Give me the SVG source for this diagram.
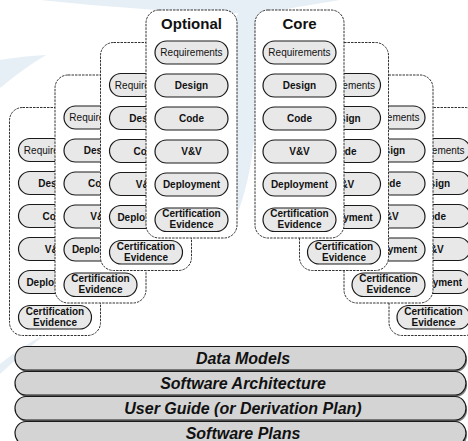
<svg xmlns="http://www.w3.org/2000/svg" width="468" height="441" viewBox="0 0 468 441">
  <style>
    .wm { fill: #e6eef6; }
    .card { fill: #ffffff; stroke: #333333; stroke-width: 1; stroke-dasharray: 2.5 1; }
    .pill { fill: #e8e8e8; stroke: #1a1a1a; stroke-width: 1.2; }
    .lbl { font-family: "Liberation Sans", Arial, sans-serif; font-size: 10px; font-weight: bold; text-anchor: middle; fill: #111111; }
    .req { font-weight: normal; }
    .title { font-size: 15px; }
    .bar { fill: #d4d4d4; stroke: #1a1a1a; stroke-width: 1.2; }
    .barshadow { fill: #808080; }
    .bartxt { font-family: "Liberation Sans", Arial, sans-serif; font-size: 16px; font-weight: bold; font-style: italic; text-anchor: middle; fill: #111111; }
  </style>

  <defs>
    <!-- each card behind is cut away where the next card in front sits -->
    <clipPath id="behind-optional">
      <path clip-rule="evenodd" d="M-10,-10 H480 V460 H-10 Z M159,10 H224 A13,13 0 0 1 237,23 V225 A13,13 0 0 1 224,238 H159 A13,13 0 0 1 146,225 V23 A13,13 0 0 1 159,10 Z"/>
    </clipPath>
    <clipPath id="behind-optional-2">
      <path clip-rule="evenodd" d="M-10,-10 H480 V460 H-10 Z M113.5,42.5 H178.5 A13,13 0 0 1 191.5,55.5 V257.5 A13,13 0 0 1 178.5,270.5 H113.5 A13,13 0 0 1 100.5,257.5 V55.5 A13,13 0 0 1 113.5,42.5 Z"/>
    </clipPath>
    <clipPath id="behind-optional-3">
      <path clip-rule="evenodd" d="M-10,-10 H480 V460 H-10 Z M68,75 H133 A13,13 0 0 1 146,88 V290 A13,13 0 0 1 133,303 H68 A13,13 0 0 1 55,290 V88 A13,13 0 0 1 68,75 Z"/>
    </clipPath>
    <clipPath id="behind-core">
      <path clip-rule="evenodd" d="M-10,-10 H480 V460 H-10 Z M268,10 H331 A13,13 0 0 1 344,23 V225 A13,13 0 0 1 331,238 H268 A13,13 0 0 1 255,225 V23 A13,13 0 0 1 268,10 Z"/>
    </clipPath>
    <clipPath id="behind-core-2">
      <path clip-rule="evenodd" d="M-10,-10 H480 V460 H-10 Z M312.5,42.5 H375.5 A13,13 0 0 1 388.5,55.5 V257.5 A13,13 0 0 1 375.5,270.5 H312.5 A13,13 0 0 1 299.5,257.5 V55.5 A13,13 0 0 1 312.5,42.5 Z"/>
    </clipPath>
    <clipPath id="behind-core-3">
      <path clip-rule="evenodd" d="M-10,-10 H480 V460 H-10 Z M357,75 H420 A13,13 0 0 1 433,88 V290 A13,13 0 0 1 420,303 H357 A13,13 0 0 1 344,290 V88 A13,13 0 0 1 357,75 Z"/>
    </clipPath>
  </defs>

  <rect width="468" height="441" fill="#ffffff"/>

  <!-- faint background swoosh -->
  <g id="watermark">
    <path class="wm" d="M40,0 L340,0 Q300,6 262,14 Q150,12 40,0 Z"/>
    <path class="wm" d="M246,4 Q264,12 258,44 L256,120 Q252,175 238,212 Q236,150 228,70 Q226,22 246,4 Z"/>
    <path class="wm" d="M0,60 Q24,56 46,55 Q24,68 0,88 Z"/>
    <path class="wm" d="M0,364 Q22,346 44,335 Q24,352 0,374 Z"/>
  </g>

  <!-- left stack: optional lifecycles, back to front -->
  <g id="optional-4" clip-path="url(#behind-optional-3)">
    <rect class="card" x="9.5" y="107.5" width="91" height="228" rx="13"/>
    <g id="optional-4-req"><rect class="pill" x="18.5" y="138.5" width="73" height="23" rx="11.5"/><text class="lbl req" x="55" y="153.5">Requirements</text></g>
    <g id="optional-4-design"><rect class="pill" x="18.5" y="171.5" width="73" height="23" rx="11.5"/><text class="lbl" x="55" y="186.5">Design</text></g>
    <g id="optional-4-code"><rect class="pill" x="18.5" y="204.5" width="73" height="23" rx="11.5"/><text class="lbl" x="55" y="219.5">Code</text></g>
    <g id="optional-4-vv"><rect class="pill" x="18.5" y="237.5" width="73" height="23" rx="11.5"/><text class="lbl" x="55" y="252.5">V&amp;V</text></g>
    <g id="optional-4-deploy"><rect class="pill" x="18.5" y="270.5" width="73" height="23" rx="11.5"/><text class="lbl" x="55" y="285.5">Deployment</text></g>
    <g id="optional-4-cert"><rect class="pill" x="18.5" y="305.5" width="73" height="23.5" rx="11.75"/><text class="lbl" x="55" y="314.5">Certification</text><text class="lbl" x="55" y="325.5">Evidence</text></g>
  </g>

  <g id="optional-3" clip-path="url(#behind-optional-2)">
    <rect class="card" x="55" y="75" width="91" height="228" rx="13"/>
    <g id="optional-3-req"><rect class="pill" x="64" y="106" width="73" height="23" rx="11.5"/><text class="lbl req" x="100.5" y="121">Requirements</text></g>
    <g id="optional-3-design"><rect class="pill" x="64" y="139" width="73" height="23" rx="11.5"/><text class="lbl" x="100.5" y="154">Design</text></g>
    <g id="optional-3-code"><rect class="pill" x="64" y="172" width="73" height="23" rx="11.5"/><text class="lbl" x="100.5" y="187">Code</text></g>
    <g id="optional-3-vv"><rect class="pill" x="64" y="205" width="73" height="23" rx="11.5"/><text class="lbl" x="100.5" y="220">V&amp;V</text></g>
    <g id="optional-3-deploy"><rect class="pill" x="64" y="238" width="73" height="23" rx="11.5"/><text class="lbl" x="100.5" y="253">Deployment</text></g>
    <g id="optional-3-cert"><rect class="pill" x="64" y="273" width="73" height="23.5" rx="11.75"/><text class="lbl" x="100.5" y="282">Certification</text><text class="lbl" x="100.5" y="293">Evidence</text></g>
  </g>

  <g id="optional-2" clip-path="url(#behind-optional)">
    <rect class="card" x="100.5" y="42.5" width="91" height="228" rx="13"/>
    <g id="optional-2-req"><rect class="pill" x="109.5" y="73.5" width="73" height="23" rx="11.5"/><text class="lbl req" x="146" y="88.5">Requirements</text></g>
    <g id="optional-2-design"><rect class="pill" x="109.5" y="106.5" width="73" height="23" rx="11.5"/><text class="lbl" x="146" y="121.5">Design</text></g>
    <g id="optional-2-code"><rect class="pill" x="109.5" y="139.5" width="73" height="23" rx="11.5"/><text class="lbl" x="146" y="154.5">Code</text></g>
    <g id="optional-2-vv"><rect class="pill" x="109.5" y="172.5" width="73" height="23" rx="11.5"/><text class="lbl" x="146" y="187.5">V&amp;V</text></g>
    <g id="optional-2-deploy"><rect class="pill" x="109.5" y="205.5" width="73" height="23" rx="11.5"/><text class="lbl" x="146" y="220.5">Deployment</text></g>
    <g id="optional-2-cert"><rect class="pill" x="109.5" y="240.5" width="73" height="23.5" rx="11.75"/><text class="lbl" x="146" y="249.5">Certification</text><text class="lbl" x="146" y="260.5">Evidence</text></g>
  </g>

  <g id="optional">
    <rect class="card" x="146" y="10" width="91" height="228" rx="13"/>
    <text class="lbl title" x="191.5" y="29">Optional</text>
    <g id="optional-req"><rect class="pill" x="155" y="41" width="73" height="23" rx="11.5"/><text class="lbl req" x="191.5" y="56">Requirements</text></g>
    <g id="optional-design"><rect class="pill" x="155" y="74" width="73" height="23" rx="11.5"/><text class="lbl" x="191.5" y="89">Design</text></g>
    <g id="optional-code"><rect class="pill" x="155" y="107" width="73" height="23" rx="11.5"/><text class="lbl" x="191.5" y="122">Code</text></g>
    <g id="optional-vv"><rect class="pill" x="155" y="140" width="73" height="23" rx="11.5"/><text class="lbl" x="191.5" y="155">V&amp;V</text></g>
    <g id="optional-deploy"><rect class="pill" x="155" y="173" width="73" height="23" rx="11.5"/><text class="lbl" x="191.5" y="188">Deployment</text></g>
    <g id="optional-cert"><rect class="pill" x="155" y="208" width="73" height="23.5" rx="11.75"/><text class="lbl" x="191.5" y="217">Certification</text><text class="lbl" x="191.5" y="228">Evidence</text></g>
  </g>

  <!-- right stack: core lifecycles, back to front -->
  <g id="core-4" clip-path="url(#behind-core-3)">
    <rect class="card" x="389" y="107.5" width="89" height="228" rx="13"/>
    <g id="core-4-req"><rect class="pill" x="397" y="138.5" width="73" height="23" rx="11.5"/><text class="lbl req" x="433.5" y="153.5">Requirements</text></g>
    <g id="core-4-design"><rect class="pill" x="397" y="171.5" width="73" height="23" rx="11.5"/><text class="lbl" x="433.5" y="186.5">Design</text></g>
    <g id="core-4-code"><rect class="pill" x="397" y="204.5" width="73" height="23" rx="11.5"/><text class="lbl" x="433.5" y="219.5">Code</text></g>
    <g id="core-4-vv"><rect class="pill" x="397" y="237.5" width="73" height="23" rx="11.5"/><text class="lbl" x="433.5" y="252.5">V&amp;V</text></g>
    <g id="core-4-deploy"><rect class="pill" x="397" y="270.5" width="73" height="23" rx="11.5"/><text class="lbl" x="433.5" y="285.5">Deployment</text></g>
    <g id="core-4-cert"><rect class="pill" x="397" y="305.5" width="73" height="23.5" rx="11.75"/><text class="lbl" x="433.5" y="314.5">Certification</text><text class="lbl" x="433.5" y="325.5">Evidence</text></g>
  </g>

  <g id="core-3" clip-path="url(#behind-core-2)">
    <rect class="card" x="344" y="75" width="89" height="228" rx="13"/>
    <g id="core-3-req"><rect class="pill" x="352" y="106" width="73" height="23" rx="11.5"/><text class="lbl req" x="388.5" y="121">Requirements</text></g>
    <g id="core-3-design"><rect class="pill" x="352" y="139" width="73" height="23" rx="11.5"/><text class="lbl" x="388.5" y="154">Design</text></g>
    <g id="core-3-code"><rect class="pill" x="352" y="172" width="73" height="23" rx="11.5"/><text class="lbl" x="388.5" y="187">Code</text></g>
    <g id="core-3-vv"><rect class="pill" x="352" y="205" width="73" height="23" rx="11.5"/><text class="lbl" x="388.5" y="220">V&amp;V</text></g>
    <g id="core-3-deploy"><rect class="pill" x="352" y="238" width="73" height="23" rx="11.5"/><text class="lbl" x="388.5" y="253">Deployment</text></g>
    <g id="core-3-cert"><rect class="pill" x="352" y="273" width="73" height="23.5" rx="11.75"/><text class="lbl" x="388.5" y="282">Certification</text><text class="lbl" x="388.5" y="293">Evidence</text></g>
  </g>

  <g id="core-2" clip-path="url(#behind-core)">
    <rect class="card" x="299.5" y="42.5" width="89" height="228" rx="13"/>
    <g id="core-2-req"><rect class="pill" x="307.5" y="73.5" width="73" height="23" rx="11.5"/><text class="lbl req" x="344" y="88.5">Requirements</text></g>
    <g id="core-2-design"><rect class="pill" x="307.5" y="106.5" width="73" height="23" rx="11.5"/><text class="lbl" x="344" y="121.5">Design</text></g>
    <g id="core-2-code"><rect class="pill" x="307.5" y="139.5" width="73" height="23" rx="11.5"/><text class="lbl" x="344" y="154.5">Code</text></g>
    <g id="core-2-vv"><rect class="pill" x="307.5" y="172.5" width="73" height="23" rx="11.5"/><text class="lbl" x="344" y="187.5">V&amp;V</text></g>
    <g id="core-2-deploy"><rect class="pill" x="307.5" y="205.5" width="73" height="23" rx="11.5"/><text class="lbl" x="344" y="220.5">Deployment</text></g>
    <g id="core-2-cert"><rect class="pill" x="307.5" y="240.5" width="73" height="23.5" rx="11.75"/><text class="lbl" x="344" y="249.5">Certification</text><text class="lbl" x="344" y="260.5">Evidence</text></g>
  </g>

  <g id="core">
    <rect class="card" x="255" y="10" width="89" height="228" rx="13"/>
    <text class="lbl title" x="299.5" y="29">Core</text>
    <g id="core-req"><rect class="pill" x="263" y="41" width="73" height="23" rx="11.5"/><text class="lbl req" x="299.5" y="56">Requirements</text></g>
    <g id="core-design"><rect class="pill" x="263" y="74" width="73" height="23" rx="11.5"/><text class="lbl" x="299.5" y="89">Design</text></g>
    <g id="core-code"><rect class="pill" x="263" y="107" width="73" height="23" rx="11.5"/><text class="lbl" x="299.5" y="122">Code</text></g>
    <g id="core-vv"><rect class="pill" x="263" y="140" width="73" height="23" rx="11.5"/><text class="lbl" x="299.5" y="155">V&amp;V</text></g>
    <g id="core-deploy"><rect class="pill" x="263" y="173" width="73" height="23" rx="11.5"/><text class="lbl" x="299.5" y="188">Deployment</text></g>
    <g id="core-cert"><rect class="pill" x="263" y="208" width="73" height="23.5" rx="11.75"/><text class="lbl" x="299.5" y="217">Certification</text><text class="lbl" x="299.5" y="228">Evidence</text></g>
  </g>

  <!-- shared foundation layers -->
  <g id="data-models">
    <rect class="barshadow" x="16" y="348.5" width="451" height="23.5" rx="11" ry="12"/>
    <rect class="bar" x="15" y="346.5" width="451" height="23.5" rx="11" ry="12"/>
    <text class="bartxt" x="243" y="363.5">Data Models</text>
  </g>
  <g id="software-architecture">
    <rect class="barshadow" x="16" y="373.5" width="451" height="23.5" rx="11" ry="12"/>
    <rect class="bar" x="15" y="371.5" width="451" height="23.5" rx="11" ry="12"/>
    <text class="bartxt" x="243" y="388.5">Software Architecture</text>
  </g>
  <g id="user-guide">
    <rect class="barshadow" x="16" y="398.5" width="451" height="23.5" rx="11" ry="12"/>
    <rect class="bar" x="15" y="396.5" width="451" height="23.5" rx="11" ry="12"/>
    <text class="bartxt" x="243" y="413.5">User Guide (or Derivation Plan)</text>
  </g>
  <g id="software-plans">
    <rect class="barshadow" x="16" y="423.5" width="451" height="23.5" rx="11" ry="12"/>
    <rect class="bar" x="15" y="421.5" width="451" height="23.5" rx="11" ry="12"/>
    <text class="bartxt" x="243" y="438.5">Software Plans</text>
  </g>

  <g id="connectors"/>
</svg>
